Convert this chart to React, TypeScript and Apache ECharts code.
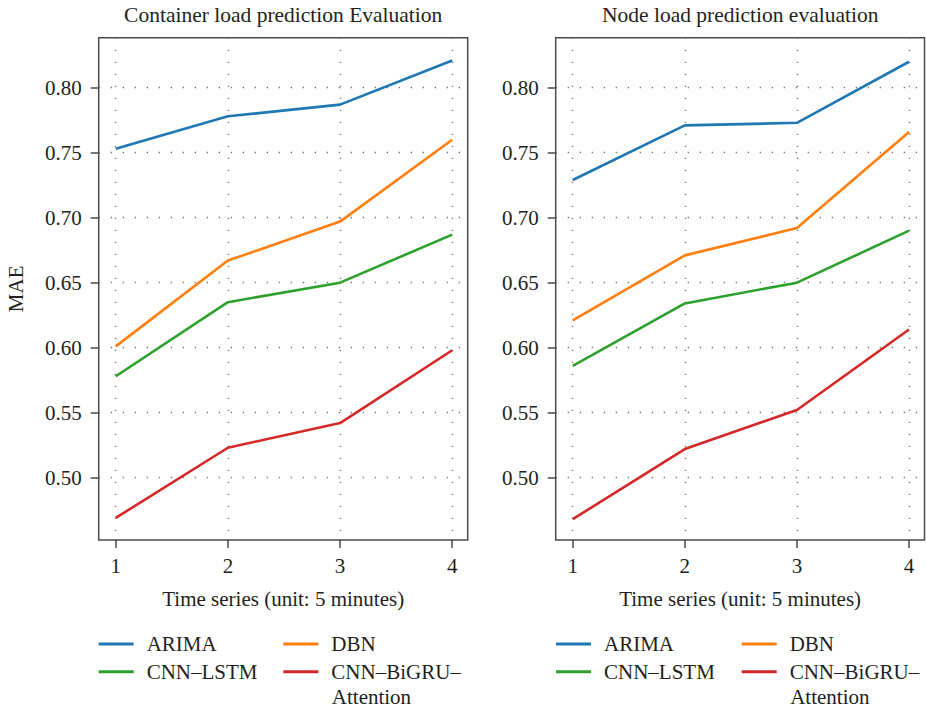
import React, { useEffect, useRef } from "react";
import * as echarts from "echarts";

const timeSteps = [1, 2, 3, 4];
const seriesNames = ["ARIMA", "DBN", "CNN–LSTM", "CNN–BiGRU–Attention"];
const seriesColors = ["#1f77b4", "#ff7f0e", "#2ca02c", "#d62728"];

const containerArima = [0.753, 0.778, 0.787, 0.821];
const containerDbn = [0.601, 0.667, 0.697, 0.76];
const containerCnnLstm = [0.578, 0.635, 0.65, 0.687];
const containerBigru = [0.469, 0.523, 0.542, 0.598];

const nodeArima = [0.729, 0.771, 0.773, 0.82];
const nodeDbn = [0.621, 0.671, 0.692, 0.766];
const nodeCnnLstm = [0.586, 0.634, 0.65, 0.69];
const nodeBigru = [0.468, 0.522, 0.552, 0.614];

const yTicks = [0.5, 0.55, 0.6, 0.65, 0.7, 0.75, 0.8];
const panelTitles = ["Container load prediction Evaluation", "Node load prediction evaluation"];
const xAxisTitle = "Time series (unit: 5 minutes)";
const yAxisTitle = "MAE";

const FONT = "'Liberation Serif', 'DejaVu Serif', serif";
const FS = 21;
const TEXT = "#231f20";
const AXIS = "#4a4a4a";

export default function App() {
  const ref = useRef<HTMLDivElement>(null);
  useEffect(() => {
    if (!ref.current) return;
    const chart = echarts.init(ref.current, null, { renderer: "svg" });
    const panels = [
      [containerArima, containerDbn, containerCnnLstm, containerBigru],
      [nodeArima, nodeDbn, nodeCnnLstm, nodeBigru],
    ];
    const grids = [
      { left: 98.7, right: 458.3, top: 37.7, bottom: 170 },
      { left: 555.7, right: 1.5, top: 37.7, bottom: 170 },
    ];
    const dotted = { show: true, lineStyle: { color: "#777", width: 1.4, type: [1.4, 10.6] } };
    const xAxes = grids.map((_, i) => ({
      type: "value",
      gridIndex: i,
      min: 0.848,
      max: 4.138,
      splitNumber: 3,
      axisLine: { show: false },
      axisTick: { show: true, length: 8, customValues: timeSteps, lineStyle: { color: AXIS, width: 1.5 } },
      axisLabel: { customValues: timeSteps, margin: 15, color: TEXT, fontSize: FS, fontFamily: FONT, formatter: (v: number) => String(v) },
      splitLine: dotted,
      name: xAxisTitle,
      nameLocation: "middle",
      nameGap: 48,
      nameTextStyle: { color: TEXT, fontSize: FS, fontFamily: FONT },
    }));
    const yAxes = grids.map((_, i) => ({
      type: "value",
      gridIndex: i,
      min: 0.452,
      max: 0.8385,
      splitNumber: 7,
      axisLine: { show: false },
      axisTick: { show: true, length: 8, customValues: yTicks, lineStyle: { color: AXIS, width: 1.5 } },
      axisLabel: { customValues: yTicks, margin: 17, color: TEXT, fontSize: FS, fontFamily: FONT, formatter: (v: number) => v.toFixed(2) },
      splitLine: dotted,
      name: i === 0 ? yAxisTitle : "",
      nameLocation: "middle",
      nameGap: 72,
      nameTextStyle: { color: TEXT, fontSize: FS, fontFamily: FONT },
    }));
    const series: any[] = [];
    panels.forEach((vals, p) => {
      vals.forEach((arr, k) => {
        series.push({
          type: "line",
          name: seriesNames[k],
          xAxisIndex: p,
          yAxisIndex: p,
          data: timeSteps.map((t, j) => [t, arr[j]]),
          showSymbol: false,
          symbol: "none",
          lineStyle: { color: seriesColors[k], width: 2.6 },
          itemStyle: { color: seriesColors[k] },
        });
      });
    });
    const legendCols = [
      [98.7, 283.3],
      [556, 741.7],
    ];
    const rowY = [644, 671.7];
    const legends: any[] = [];
    legendCols.forEach((cols) => {
      seriesNames.forEach((nm, k) => {
        const col = k % 2;
        const row = Math.floor(k / 2);
        legends.push({
          data: [nm],
          left: cols[col],
          top: rowY[row] - 12.5,
          padding: 0,
          icon: "rect",
          itemWidth: 35,
          itemHeight: 3,
          selectedMode: false,
          formatter: (n: string) => (n === "CNN–BiGRU–Attention" ? "CNN–BiGRU–" : n),
          textStyle: {
            color: TEXT,
            fontSize: FS,
            fontFamily: FONT,
            lineHeight: 25,
            padding: [0, 0, 0, 8],
          },
        });
      });
    });
    const graphics = legendCols.map((cols) => ({
      type: "text",
      left: cols[1] + 48.5,
      top: 696.7 - 12.5,
      style: { text: "Attention", fill: TEXT, font: `${FS}px ${FONT}`, lineHeight: 25 },
    }));
    chart.setOption({
      animation: false,
      backgroundColor: "#ffffff",
      textStyle: { fontFamily: FONT },
      title: panelTitles.map((t, i) => ({
        text: t,
        left: i === 0 ? 283.2 : 740.2,
        top: 4,
        textAlign: "center",
        padding: 0,
        textStyle: { color: TEXT, fontSize: 21.5, fontWeight: "normal", fontFamily: FONT },
      })),
      grid: grids.map((g) => ({ ...g, show: true, borderColor: AXIS, borderWidth: 1.5, backgroundColor: "transparent" })),
      xAxis: xAxes,
      yAxis: yAxes,
      legend: legends,
      graphic: graphics,
      series,
    });
    return () => chart.dispose();
  }, []);
  return <div ref={ref} style={{ width: 926, height: 710, position: "absolute", left: 0, top: 0 }} />;
}
